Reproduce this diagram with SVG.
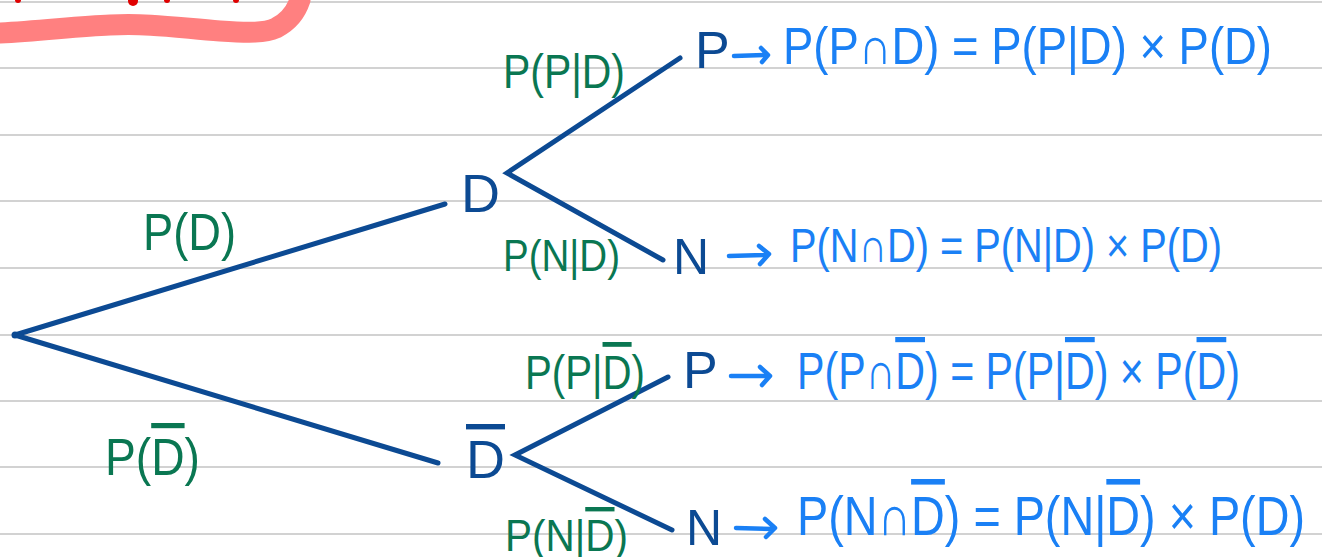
<svg xmlns="http://www.w3.org/2000/svg" width="1322" height="557" viewBox="0 0 1322 557">
<style>
.rule{stroke:#d2d2d2;stroke-width:2}
.br{stroke:#0c4a93;stroke-width:5;stroke-linecap:round;fill:none}
.arr{stroke:#1a80f5;stroke-width:4.5;stroke-linecap:round;stroke-linejoin:round;fill:none}
.node{font-family:"Liberation Sans",Arial,sans-serif;fill:#0c4a93}
.lbl{font-family:"Liberation Sans",Arial,sans-serif;fill:#0a7752}
.fm{font-family:"Liberation Sans",Arial,sans-serif;fill:#1a80f5}
.ov{text-decoration:overline}
</style>
<rect width="1322" height="557" fill="#ffffff"/>
<g id="paper">
<line class="rule" x1="0" y1="2" x2="1322" y2="2"/>
<line class="rule" x1="0" y1="68" x2="1322" y2="68"/>
<line class="rule" x1="0" y1="135" x2="1322" y2="135"/>
<line class="rule" x1="0" y1="201" x2="1322" y2="201"/>
<line class="rule" x1="0" y1="268" x2="1322" y2="268"/>
<line class="rule" x1="0" y1="335" x2="1322" y2="335"/>
<line class="rule" x1="0" y1="401" x2="1322" y2="401"/>
<line class="rule" x1="0" y1="467" x2="1322" y2="467"/>
<line class="rule" x1="0" y1="534" x2="1322" y2="534"/>
</g>
<g id="highlight">
<path d="M0,33 C40,31 80,26 110,25 C150,23 180,28 220,31 C250,33 265,33 276,28 C288,22 296,12 300,0" fill="none" stroke="#ff8080" stroke-width="21" stroke-linecap="round"/>
<circle cx="18" cy="0" r="3" fill="#e00000"/>
<circle cx="133" cy="1" r="5" fill="#e00000"/>
<circle cx="167" cy="0" r="3" fill="#e00000"/>
<circle cx="236" cy="0" r="3" fill="#e00000"/>
</g>
<g id="connectors">
<circle cx="15" cy="335" r="3.5" fill="#0c4a93"/>
<line class="br" x1="15" y1="335" x2="445" y2="204"/>
<line class="br" x1="15" y1="335" x2="438" y2="463"/>
<polyline class="br" points="680,58 507,173 663,260"/>
<polyline class="br" points="668,377 515,455 672,530"/>
</g>
<g id="node-D"><text class="node" x="461" y="212" font-size="54">D</text></g>
<g id="node-Dbar"><text class="node" x="466" y="478" font-size="54"><tspan class="ov">D</tspan></text></g>
<g id="node-P1"><text class="node" x="695" y="68" font-size="52">P</text></g>
<g id="node-N1"><text class="node" x="673" y="274" font-size="50">N</text></g>
<g id="node-P2"><text class="node" x="683" y="388" font-size="52">P</text></g>
<g id="node-N2"><text class="node" x="686" y="545" font-size="50">N</text></g>
<g id="labels">
<text class="lbl" x="143" y="250" font-size="52" textLength="93" lengthAdjust="spacingAndGlyphs">P(D)</text>
<text class="lbl" x="105" y="475" font-size="52" textLength="95" lengthAdjust="spacingAndGlyphs">P(<tspan class="ov">D</tspan>)</text>
<text class="lbl" x="503" y="88" font-size="48" textLength="122" lengthAdjust="spacingAndGlyphs">P(P|D)</text>
<text class="lbl" x="503" y="271" font-size="44" textLength="117" lengthAdjust="spacingAndGlyphs">P(N|D)</text>
<text class="lbl" x="525" y="389" font-size="48" textLength="120" lengthAdjust="spacingAndGlyphs">P(P|<tspan class="ov">D</tspan>)</text>
<text class="lbl" x="505" y="551" font-size="44" textLength="123" lengthAdjust="spacingAndGlyphs">P(N|<tspan class="ov">D</tspan>)</text>
</g>
<g id="formula1">
<path class="arr" d="M734,56 L767,55 M761,48 L768,55 L762,62"/>
<text class="fm" x="783" y="64" font-size="52" textLength="489" lengthAdjust="spacingAndGlyphs">P(P∩D) = P(P|D) × P(D)</text>
</g>
<g id="formula2">
<path class="arr" d="M729,256 L767,255 M759,246 L769,254 L760,264"/>
<text class="fm" x="790" y="262" font-size="48" textLength="432" lengthAdjust="spacingAndGlyphs">P(N∩D) = P(N|D) × P(D)</text>
</g>
<g id="formula3">
<path class="arr" d="M731,376 L768,376 M760,367 L770,376 L762,385"/>
<text class="fm" x="797" y="389" font-size="52" textLength="443" lengthAdjust="spacingAndGlyphs">P(P∩<tspan class="ov">D</tspan>) = P(P|<tspan class="ov">D</tspan>) × P(<tspan class="ov">D</tspan>)</text>
</g>
<g id="formula4">
<path class="arr" d="M736,528 L773,529 M765,519 L775,528 L766,537"/>
<text class="fm" x="797" y="535" font-size="56" textLength="508" lengthAdjust="spacingAndGlyphs">P(N∩<tspan class="ov">D</tspan>) = P(N|<tspan class="ov">D</tspan>) × P(D)</text>
</g>
</svg>
